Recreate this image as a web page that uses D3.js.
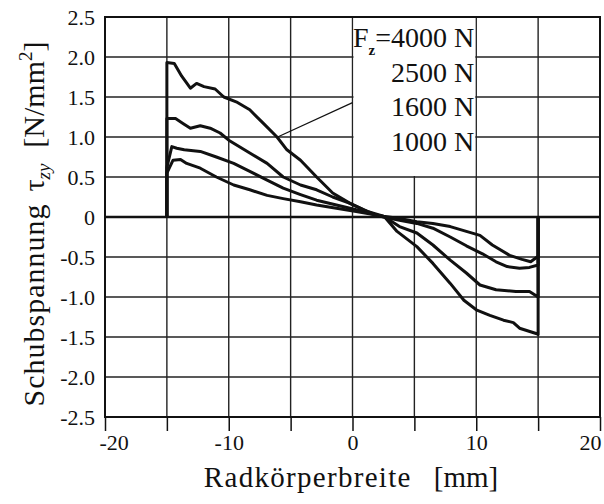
<!DOCTYPE html>
<html>
<head>
<meta charset="utf-8">
<script src="https://cdn.jsdelivr.net/npm/d3@7"></script>
<style>
  html, body { margin: 0; padding: 0; background: #fff; }
  .grid line { stroke: #222; stroke-width: 1.4; }
  .curve { fill: none; stroke: #111; stroke-width: 3; stroke-linejoin: round; }
</style>
</head>
<body>
<div id="chart"></div>
<script>
// Schubspannung ueber Radkoerperbreite, 4 Lastfaelle
var loads = ["4000 N", "2500 N", "1600 N", "1000 N"];

var f4000 = [[-15,0],[-15,1.93],[-14.4,1.92],[-13.8,1.76],[-13.1,1.61],[-12.6,1.67],[-12.0,1.63],[-11.1,1.60],
  [-10.4,1.50],[-9.4,1.44],[-8.3,1.34],[-7.2,1.17],[-6.1,1.00],[-5.3,0.84],[-4.2,0.71],[-2.9,0.50],[-1.6,0.30],
  [-0.2,0.17],[0.9,0.09],[2.0,0.02],[2.6,0.0],[3.6,-0.18],[5.2,-0.37],[6.5,-0.58],[7.9,-0.83],[9.0,-1.04],
  [10.0,-1.16],[11.1,-1.23],[12.2,-1.29],[13.0,-1.32],[13.5,-1.39],[14.9,-1.46],[15,-1.47],[15,0]];

var f2500 = [[-15,0],[-15,1.23],[-14.3,1.23],[-13.7,1.17],[-13.1,1.11],[-12.3,1.14],[-11.5,1.11],[-10.7,1.05],
  [-10.0,0.96],[-8.3,0.80],[-6.9,0.67],[-5.6,0.50],[-4.2,0.40],[-2.9,0.34],[-1.6,0.25],[-0.2,0.17],[1.2,0.07],
  [2.5,0.01],[3.8,-0.12],[5.2,-0.20],[6.5,-0.35],[7.9,-0.54],[9.2,-0.70],[10.3,-0.85],[11.6,-0.91],
  [13.2,-0.93],[14.3,-0.93],[15,-1.00],[15,0]];

var f1600 = [[-15,0],[-15,0.62],[-14.6,0.88],[-14.2,0.86],[-13.6,0.84],[-12.3,0.82],[-11.0,0.75],[-9.6,0.67],
  [-8.3,0.57],[-6.9,0.46],[-5.6,0.36],[-4.2,0.28],[-2.9,0.21],[-1.3,0.15],[0.3,0.09],[2.5,0.0],[3.8,-0.04],
  [5.2,-0.08],[6.5,-0.14],[7.9,-0.25],[9.2,-0.36],[10.5,-0.46],[11.6,-0.56],[12.5,-0.62],[13.5,-0.64],
  [14.3,-0.63],[15,-0.60],[15,0]];

var f1000 = [[-15,0],[-15,0.55],[-14.5,0.71],[-13.9,0.72],[-13.4,0.67],[-12.3,0.61],[-11.0,0.50],[-9.6,0.40],
  [-8.3,0.34],[-6.9,0.27],[-5.6,0.23],[-4.2,0.19],[-2.9,0.15],[-1.3,0.11],[0.3,0.07],[2.5,0.01],[3.8,-0.02],
  [5.2,-0.06],[6.5,-0.08],[7.9,-0.12],[9.2,-0.18],[10.3,-0.23],[11.3,-0.35],[12.7,-0.48],[13.7,-0.53],
  [14.4,-0.56],[15,-0.49],[15,0]];

var series = [f4000, f2500, f1600, f1000];

var xTicks = [-20, -15, -10, -5, 0, 5, 10, 15, 20];
var yTicks = [-2.5, -2, -1.5, -1, -0.5, 0, 0.5, 1, 1.5, 2, 2.5];

// legend box spans x 0..10, y 0.5..2.5; leader from curve to box
var legendBox = { x0: 0, x1: 10, y0: 0.5, y1: 2.5 };
var leader = [[-6.05, 1.0], [0, 1.43]];

var serif = "'Liberation Serif', 'DejaVu Serif', 'Times New Roman', serif";

var width = 604, height = 504;
var margin = { top: 17, right: 4, bottom: 87, left: 105 };

var x = d3.scaleLinear().domain([-20, 20]).range([margin.left, width - margin.right]);
var y = d3.scaleLinear().domain([-2.5, 2.5]).range([height - margin.bottom, margin.top]);

var svg = d3.select("#chart").append("svg")
    .attr("width", width)
    .attr("height", height)
    .attr("font-family", serif);

// grid
var grid = svg.append("g").attr("class", "grid");
grid.selectAll(".gx").data(xTicks.slice(1, -1)).enter().append("line")
    .attr("x1", d => x(d)).attr("x2", d => x(d))
    .attr("y1", y(2.5)).attr("y2", y(-2.5));
grid.selectAll(".gy").data(yTicks.slice(1, -1)).enter().append("line")
    .attr("x1", x(-20)).attr("x2", x(20))
    .attr("y1", d => y(d)).attr("y2", d => y(d))
    .style("stroke-width", d => d === 0 ? 2.6 : 1.4)
    .style("stroke", d => d === 0 ? "#111" : "#222");

// white legend box (keeps its edge lines)
svg.append("rect")
    .attr("x", x(legendBox.x0) + 1)
    .attr("y", y(legendBox.y1) + 1)
    .attr("width", x(legendBox.x1) - x(legendBox.x0) - 2)
    .attr("height", y(legendBox.y0) - y(legendBox.y1) - 2)
    .attr("fill", "#fff");

// frame
svg.append("rect")
    .attr("x", x(-20)).attr("y", y(2.5))
    .attr("width", x(20) - x(-20)).attr("height", y(-2.5) - y(2.5))
    .attr("fill", "none").attr("stroke", "#111").attr("stroke-width", 2);

// axes
var fmt = function(d) { return d === 0 ? "0" : d3.format(".1f")(d).replace("\u2212", "-"); };

var xAxis = svg.append("g")
    .attr("transform", "translate(0," + y(-2.5) + ")")
    .call(d3.axisBottom(x).tickValues(xTicks).tickSize(14).tickPadding(3)
        .tickFormat(d => d % 10 === 0 ? String(d).replace("\u2212", "-") : ""));
xAxis.attr("font-family", serif).attr("font-size", 22);
xAxis.select(".domain").remove();
xAxis.selectAll(".tick line").attr("stroke", "#111").attr("stroke-width", 1.5);
xAxis.selectAll(".tick text").attr("fill", "#111");
xAxis.selectAll(".tick text").filter(d => d === -20).attr("text-anchor", "start").attr("dx", -6);
xAxis.selectAll(".tick text").filter(d => d === 20).attr("text-anchor", "end").attr("dx", 1);

var yAxis = svg.append("g")
    .attr("transform", "translate(" + x(-20) + ",0)")
    .call(d3.axisLeft(y).tickValues(yTicks).tickSize(0).tickPadding(10).tickFormat(fmt));
yAxis.attr("font-family", serif).attr("font-size", 22);
yAxis.select(".domain").remove();
yAxis.selectAll(".tick text").attr("fill", "#111");

// curves
var line = d3.line().x(d => x(d[0])).y(d => y(d[1]));
svg.selectAll(".curve").data(series).enter().append("path")
    .attr("class", "curve")
    .attr("d", line);

// leader line
svg.append("line")
    .attr("x1", x(leader[0][0])).attr("y1", y(leader[0][1]))
    .attr("x2", x(leader[1][0])).attr("y2", y(leader[1][1]))
    .attr("stroke", "#111").attr("stroke-width", 1.2);

// legend text
var legendX = x(legendBox.x1) - 2;
loads.forEach(function(lab, i) {
    var t = svg.append("text")
        .attr("x", legendX)
        .attr("y", 47 + i * 34.5)
        .attr("text-anchor", "end")
        .attr("fill", "#111")
        .style("font-size", "28px");
    if (i === 0) {
        t.append("tspan").text("F");
        t.append("tspan").attr("dy", 8).style("font-size", "15px").style("font-weight", "bold").text("z");
        t.append("tspan").attr("dy", -8).text("=" + lab);
    } else {
        t.text(lab);
    }
});

// axis titles
var xt = svg.append("text")
    .attr("x", 351).attr("y", 487)
    .attr("text-anchor", "middle")
    .attr("fill", "#111")
    .style("font-size", "29px");
xt.append("tspan").style("letter-spacing", "1.3px").text("Radkörperbreite");
xt.append("tspan").attr("dx", 22).text("[mm]");

var yt = svg.append("text")
    .attr("transform", "translate(44,224) rotate(-90)")
    .attr("text-anchor", "middle")
    .attr("fill", "#111")
    .style("font-size", "30px");
yt.append("tspan").style("letter-spacing", "1px").text("Schubspannung");
yt.append("tspan").attr("dx", 12).text("τ");
yt.append("tspan").attr("dy", 6).style("font-size", "19px").style("font-style", "italic").text("zy");
yt.append("tspan").attr("dy", -6).attr("dx", 16).text("[N/mm");
yt.append("tspan").attr("dy", -12).style("font-size", "19px").text("2");
yt.append("tspan").attr("dy", 12).text("]");
</script>
</body>
</html>
